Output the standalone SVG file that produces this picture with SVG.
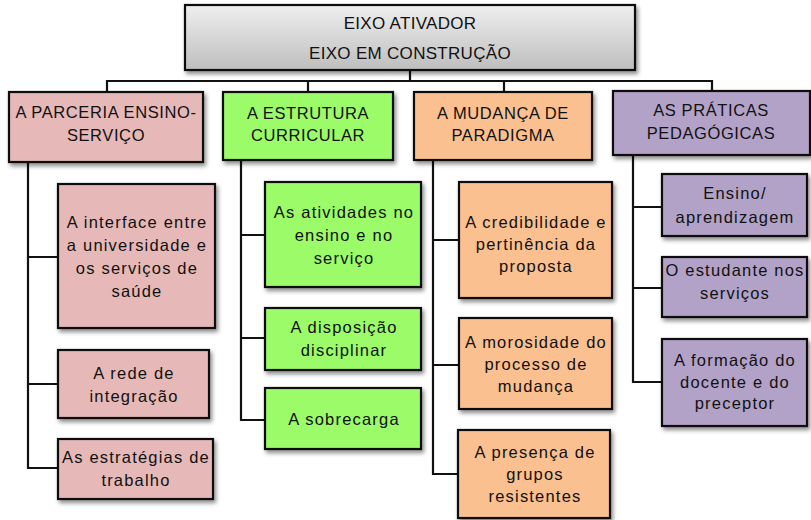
<svg xmlns="http://www.w3.org/2000/svg" width="811" height="520" viewBox="0 0 811 520">
<defs>
<linearGradient id="gray" x1="0" y1="0" x2="0" y2="1">
<stop offset="0" stop-color="#EFEFEF"/>
<stop offset="1" stop-color="#BEBEBE"/>
</linearGradient>
<filter id="sh" x="-10%" y="-10%" width="130%" height="140%">
<feDropShadow dx="2" dy="3" stdDeviation="2" flood-color="#000" flood-opacity="0.45"/>
</filter>
</defs>
<style>
rect{stroke:#111;stroke-width:2.2;filter:url(#sh)}
.g{fill:url(#gray)}
.p{fill:#E6B9B8}
.gr{fill:#9BFB68}
.o{fill:#FAC090}
.v{fill:#B3A2C7}
text{font-family:"Liberation Sans",Arial,sans-serif;font-size:16.5px;letter-spacing:1.2px;fill:#111;text-anchor:middle}
.h{font-size:16.5px;letter-spacing:0.6px}
.t{font-size:17px;letter-spacing:0.3px}
#connectors path{fill:none;stroke:#111;stroke-width:2.2}
</style>
<rect width="811" height="520" fill="#fff" style="stroke:none;filter:none"/>
<g id="connectors">
<path d="M410 70V81M107 92V81H712V92M308 81V92M504 81V92"/>
<path d="M28 162V468H58M28 257H58M28 384H58"/>
<path d="M241 160V420H265M241 235H265M241 338H265"/>
<path d="M433 160V474H458M433 240H459M433 365H459"/>
<path d="M633 155V382H662M633 207H662M633 288H662"/>
</g>
<g id="root">
<rect class="g" x="185" y="5" width="450" height="65"/>
<text class="t" x="410" y="29">EIXO ATIVADOR</text>
<text class="t" x="410" y="59">EIXO EM CONSTRUÇÃO</text>
</g>
<g id="h1">
<rect class="p" x="9" y="92" width="194" height="70"/>
<text class="h" x="106" y="118">A PARCERIA ENSINO-</text>
<text class="h" x="106" y="141">SERVIÇO</text>
</g>
<g id="h2">
<rect class="gr" x="223" y="92" width="170" height="68"/>
<text class="h" x="308" y="119">A ESTRUTURA</text>
<text class="h" x="308" y="141">CURRICULAR</text>
</g>
<g id="h3">
<rect class="o" x="414" y="92" width="178" height="68"/>
<text class="h" x="503" y="119">A MUDANÇA DE</text>
<text class="h" x="503" y="141">PARADIGMA</text>
</g>
<g id="h4">
<rect class="v" x="613" y="91" width="197" height="64"/>
<text class="h" x="711" y="116">AS PRÁTICAS</text>
<text class="h" x="711" y="139">PEDAGÓGICAS</text>
</g>
<g id="p1">
<rect class="p" x="58" y="184" width="157" height="144"/>
<text x="137" y="228">A interface entre</text>
<text x="137" y="251">a universidade e</text>
<text x="137" y="274">os serviços de</text>
<text x="137" y="297">saúde</text>
</g>
<g id="p2">
<rect class="p" x="58" y="350" width="151" height="68"/>
<text x="134" y="379">A rede de</text>
<text x="134" y="402">integração</text>
</g>
<g id="p3">
<rect class="p" x="58" y="439" width="155" height="60"/>
<text x="136" y="463">As estratégias de</text>
<text x="136" y="486">trabalho</text>
</g>
<g id="g1">
<rect class="gr" x="265" y="182" width="156" height="105"/>
<text x="344" y="218">As atividades no</text>
<text x="344" y="241">ensino e no</text>
<text x="344" y="264">serviço</text>
</g>
<g id="g2">
<rect class="gr" x="265" y="308" width="156" height="62"/>
<text x="344" y="333">A disposição</text>
<text x="344" y="356">disciplinar</text>
</g>
<g id="g3">
<rect class="gr" x="265" y="388" width="156" height="61"/>
<text x="344" y="425">A sobrecarga</text>
</g>
<g id="o1">
<rect class="o" x="459" y="182" width="153" height="116"/>
<text x="536" y="228">A credibilidade e</text>
<text x="536" y="250">pertinência da</text>
<text x="536" y="272">proposta</text>
</g>
<g id="o2">
<rect class="o" x="459" y="318" width="153" height="91"/>
<text x="536" y="348">A morosidade do</text>
<text x="536" y="370">processo de</text>
<text x="536" y="392">mudança</text>
</g>
<g id="o3">
<rect class="o" x="458" y="430" width="152" height="88"/>
<text x="535" y="458">A presença de</text>
<text x="535" y="480">grupos</text>
<text x="535" y="502">resistentes</text>
</g>
<g id="v1">
<rect class="v" x="662" y="174" width="145" height="62"/>
<text x="735" y="199">Ensino/</text>
<text x="735" y="223">aprendizagem</text>
</g>
<g id="v2">
<rect class="v" x="662" y="257" width="145" height="60"/>
<text x="735" y="276">O estudante nos</text>
<text x="735" y="299">serviços</text>
</g>
<g id="v3">
<rect class="v" x="662" y="339" width="145" height="87"/>
<text x="735" y="366">A formação do</text>
<text x="735" y="388">docente e do</text>
<text x="735" y="409">preceptor</text>
</g>
</svg>
